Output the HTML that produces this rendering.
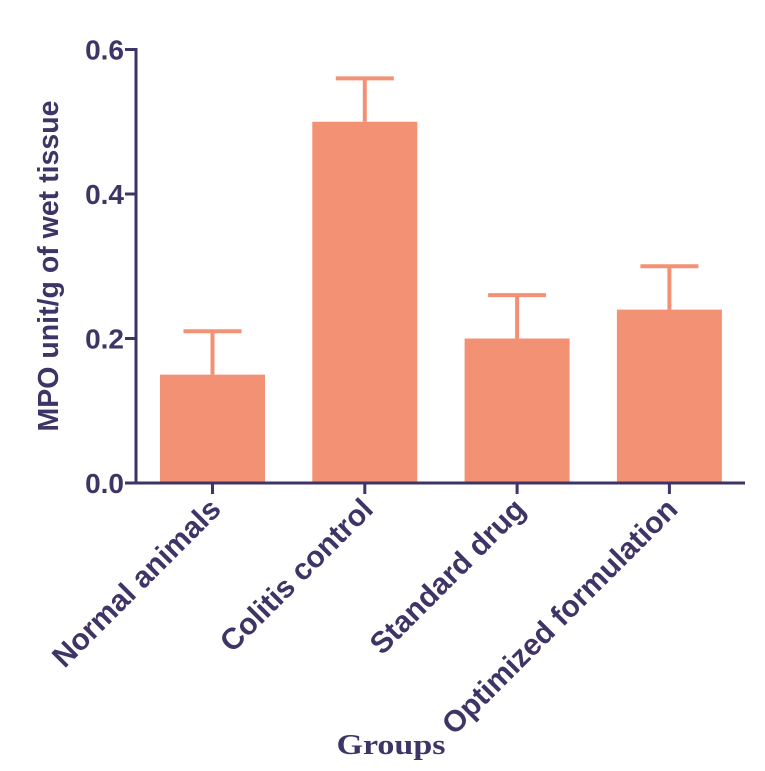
<!DOCTYPE html>
<html><head><meta charset="utf-8"><style>
html,body{margin:0;padding:0;background:#fff;}
svg{display:block;}
text{font-family:"Liberation Sans",Arial,sans-serif;font-weight:bold;fill:#3f3466;}
</style></head><body>
<svg id="chart" width="765" height="771" viewBox="0 0 765 771">
<g id="plot"></g>
<text x="58" y="266" font-size="28.5" text-anchor="middle" transform="rotate(-90 58 266)">MPO unit/g of wet tissue</text>
<text x="391" y="754" font-size="28" text-anchor="middle" textLength="109" lengthAdjust="spacingAndGlyphs" style="font-family:'Liberation Serif',serif">Groups</text>
</svg>
<script>
const categories = ["Normal animals","Colitis control","Standard drug","Optimized formulation"];
const values = [0.15, 0.5, 0.2, 0.24];
const errors = [0.06, 0.06, 0.06, 0.06];
const yTicks = [0.0, 0.2, 0.4, 0.6];
const yTickLabels = ["0.0","0.2","0.4","0.6"];

const NS = "http://www.w3.org/2000/svg";
const g = document.getElementById('plot');
const x0 = 136, x1 = 745, yBase = 483, yTop = 49.5, vMax = 0.6;
function yScale(v){ return yBase - (v / vMax) * (yBase - yTop); }
const step = 152.3, first = 212.5, barW = 105, capW = 58;
function xCenter(i){ return first + i * step; }
function mk(tag, attrs){ const e = document.createElementNS(NS, tag); for (const k in attrs) e.setAttribute(k, attrs[k]); g.appendChild(e); return e; }
const AX = "#3f3466", BAR = "#f39175";

categories.forEach((c, i) => {
  const cx = xCenter(i), top = yScale(values[i]), et = yScale(values[i] + errors[i]);
  const s = mk('line', {x1: cx, x2: cx, y1: top, y2: et, stroke: BAR, 'stroke-width': 4});
  
  
  const cap = mk('line', {x1: cx - capW/2, x2: cx + capW/2, y1: et, y2: et, stroke: BAR, 'stroke-width': 4});
  
  
  const r = mk('rect', {x: cx - barW/2, y: top, width: barW, height: yBase - top, fill: BAR});
  
  
  const t = mk('line', {x1: cx, x2: cx, y1: yBase, y2: yBase + 11, stroke: AX, 'stroke-width': 3});
  
  
  const lx = cx + 10, ly = yBase + 28;
  const lb = mk('text', {x: lx, y: ly, 'font-size': 30, 'text-anchor': 'end', transform: `rotate(-45 ${lx} ${ly})`});
  lb.textContent = c;
  
  
});

yTicks.forEach((v, i) => {
  const y = yScale(v);
  const t = mk('line', {x1: x0 - 11, x2: x0, y1: y, y2: y, stroke: AX, 'stroke-width': 3});
  
  
  const l = mk('text', {x: x0 - 12, y: y + 10, 'font-size': 28, 'text-anchor': 'end'});
  l.textContent = yTickLabels[i];
  
  
});
const ya = mk('line', {x1: x0, x2: x0, y1: yTop - 1.5, y2: yBase + 1.5, stroke: AX, 'stroke-width': 3});


const xa = mk('line', {x1: x0, x2: x1, y1: yBase, y2: yBase, stroke: AX, 'stroke-width': 3});


</script>
</body></html>
